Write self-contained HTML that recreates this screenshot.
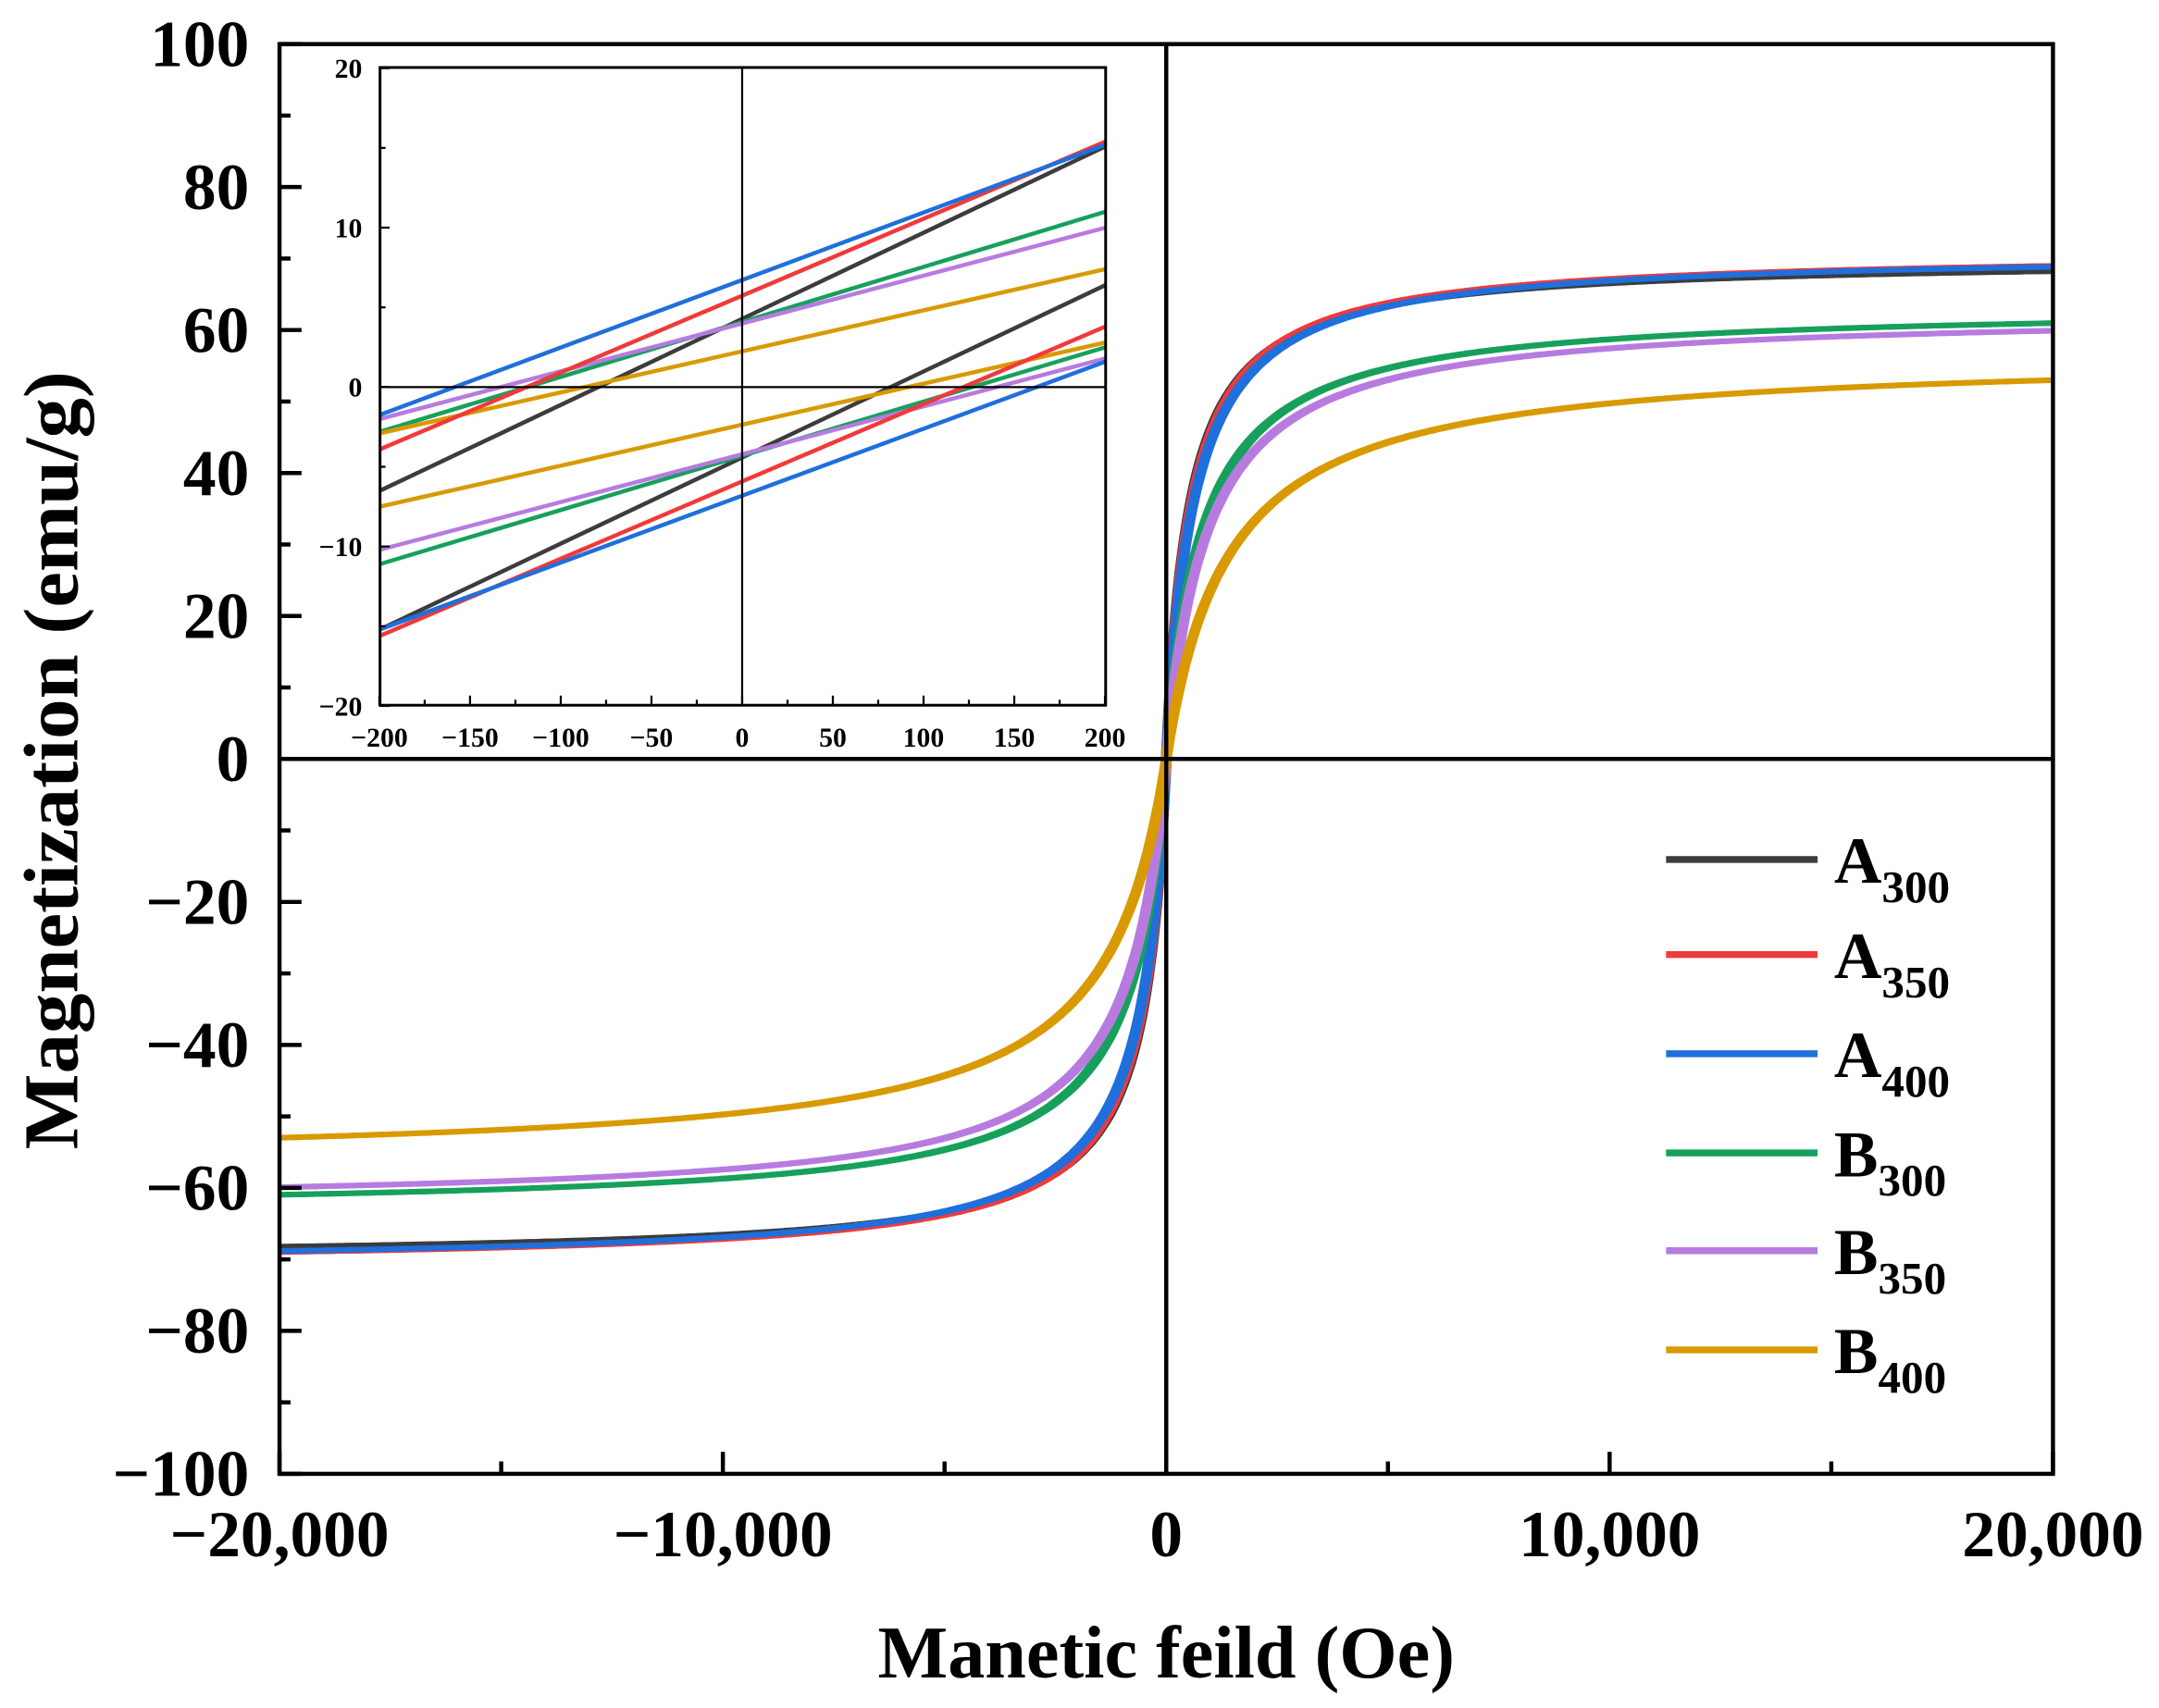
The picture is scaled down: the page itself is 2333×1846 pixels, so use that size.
<!DOCTYPE html>
<html><head><meta charset="utf-8"><style>
html,body{margin:0;padding:0;background:#fff;}
svg{display:block;}
text{font-family:"Liberation Serif",serif;font-weight:bold;fill:#000;}
</style></head><body>
<svg id="s" width="2333" height="1846" viewBox="0 0 1568 1240" preserveAspectRatio="none" xmlns="http://www.w3.org/2000/svg">
<defs><clipPath id="c"><rect x="203" y="32" width="1288" height="1038"/></clipPath>
<clipPath id="ci"><rect x="276" y="49" width="527" height="463"/></clipPath></defs>
<rect x="0" y="0" width="1568" height="1240" fill="#fff"/>
<g id="curves" clip-path="url(#c)" fill="none" stroke-width="4"></g>
<line x1="847" y1="32" x2="847" y2="1070" stroke="#000" stroke-width="3"/>
<line x1="203" y1="551" x2="1491" y2="551" stroke="#000" stroke-width="3"/>
<rect x="203" y="32" width="1288" height="1038" fill="none" stroke="#000" stroke-width="3"/>
<g id="ticks" stroke="#000" stroke-width="3"></g>
<g id="labels" font-size="48"></g>
<rect x="276" y="49" width="527" height="463" fill="#fff" stroke="none"/>
<g id="inset" clip-path="url(#ci)" stroke-width="3" fill="none"></g>
<line x1="539" y1="49" x2="539" y2="512" stroke="#000" stroke-width="1.5"/>
<line x1="276" y1="281" x2="803" y2="281" stroke="#000" stroke-width="1.5"/>
<rect x="276" y="49" width="527" height="463" fill="none" stroke="#000" stroke-width="2"/>
<g id="iticks" stroke="#000" stroke-width="1.5"></g>
<g id="ilabels" font-size="20"></g>
<text x="847" y="1218" font-size="54" text-anchor="middle" textLength="419" lengthAdjust="spacingAndGlyphs">Manetic feild (Oe)</text>
<text transform="translate(56,552) rotate(-90)" font-size="56" text-anchor="middle" textLength="565" lengthAdjust="spacingAndGlyphs">Magnetization (emu/g)</text>
<g id="legend"></g>
</svg>
<script>
const NS="http://www.w3.org/2000/svg";
function el(p,t,a,txt){const e=document.createElementNS(NS,t);for(const k in a)e.setAttribute(k,a[k]);if(txt!==undefined)e.textContent=txt;document.getElementById(p).appendChild(e);return e;}
const X=h=>847+h*(1288/40000), Y=m=>551-m*(1038/200);
const S=[
 ["#3c3c3c",70.0,520,"A","300"],
 ["#f03a3a",70.9,560,"A","350"],
 ["#1f6fdc",70.9,600,"A","400"],
 ["#17a05c",63.4,800,"B","300"],
 ["#b77be0",62.6,900,"B","350"],
 ["#d89a00",56.7,1400,"B","400"]];
S.forEach(s=>{
 for(const hc of [-60,60]){
  let d="";
  for(let i=0;i<=800;i++){const h=-20000+i*50;const u=h+hc;const m=s[1]*u/(Math.abs(u)+s[2]);d+=(i?"L":"M")+X(h).toFixed(1)+","+Y(m).toFixed(1);}
  el("curves","path",{d:d,stroke:s[0]});
 }
});
for(let h=-20000;h<=20000;h+=5000){const maj=h%10000==0;el("ticks","line",{x1:X(h),x2:X(h),y1:1070,y2:1070-(maj?16:9)});}
for(let m=-100;m<=100;m+=20){el("ticks","line",{x1:203,x2:219,y1:Y(m),y2:Y(m)});}
for(let m=-90;m<=90;m+=20){el("ticks","line",{x1:203,x2:211,y1:Y(m),y2:Y(m)});}
const xl={"-20000":"\u221220,000","-10000":"\u221210,000","0":"0","10000":"10,000","20000":"20,000"};
for(const k in xl)el("labels","text",{x:X(+k),y:1130,"text-anchor":"middle"},xl[k]);
for(let m=-100;m<=100;m+=20)el("labels","text",{x:181,y:Y(m)+16,"text-anchor":"end"},m<0?"\u2212"+(-m):""+m);
const IX=v=>539+v*(527/400), IY=v=>281-v*(463/40);
const L=[["#3c3c3c",[-6.5,15.1],[-15.2,6.4]],["#17a05c",[-2.8,11.0],[-11.1,2.5]],["#b77be0",[-2.0,10.0],[-10.2,1.8]],
["#d89a00",[-2.9,7.4],[-7.5,2.8]],["#f03a3a",[-3.9,15.4],[-15.6,3.8]],["#1f6fdc",[-1.74,15.2],[-15.2,1.6]]];
L.forEach(l=>{[l[1],l[2]].forEach(p=>el("inset","line",{x1:276,y1:IY(p[0]),x2:803,y2:IY(p[1]),stroke:l[0]}));});
for(let v=-200;v<=200;v+=25){el("iticks","line",{x1:IX(v),x2:IX(v),y1:512,y2:512-(v%50==0?7:4)});}
for(let v=-20;v<=20;v+=5){el("iticks","line",{x1:276,x2:276+(v%10==0?7:4),y1:IY(v),y2:IY(v)});}
for(let v=-200;v<=200;v+=50)el("ilabels","text",{x:IX(v),y:542,"text-anchor":"middle"},v<0?"\u2212"+(-v):""+v);
for(let v=-20;v<=20;v+=10)el("ilabels","text",{x:263,y:IY(v)+7,"text-anchor":"end"},v<0?"\u2212"+(-v):""+v);
const ly=[624,693,765,837,908,980];
S.forEach((s,i)=>{el("legend","line",{x1:1210,x2:1320,y1:ly[i],y2:ly[i],stroke:s[0],"stroke-width":5});
 const t=el("legend","text",{x:1332,y:ly[i]+17,"font-size":48});
 const a=document.createElementNS(NS,"tspan");a.textContent=s[3];t.appendChild(a);
 const b=document.createElementNS(NS,"tspan");b.setAttribute("font-size","33");b.setAttribute("dy","14");b.textContent=s[4];t.appendChild(b);});
</script>
</body></html>
